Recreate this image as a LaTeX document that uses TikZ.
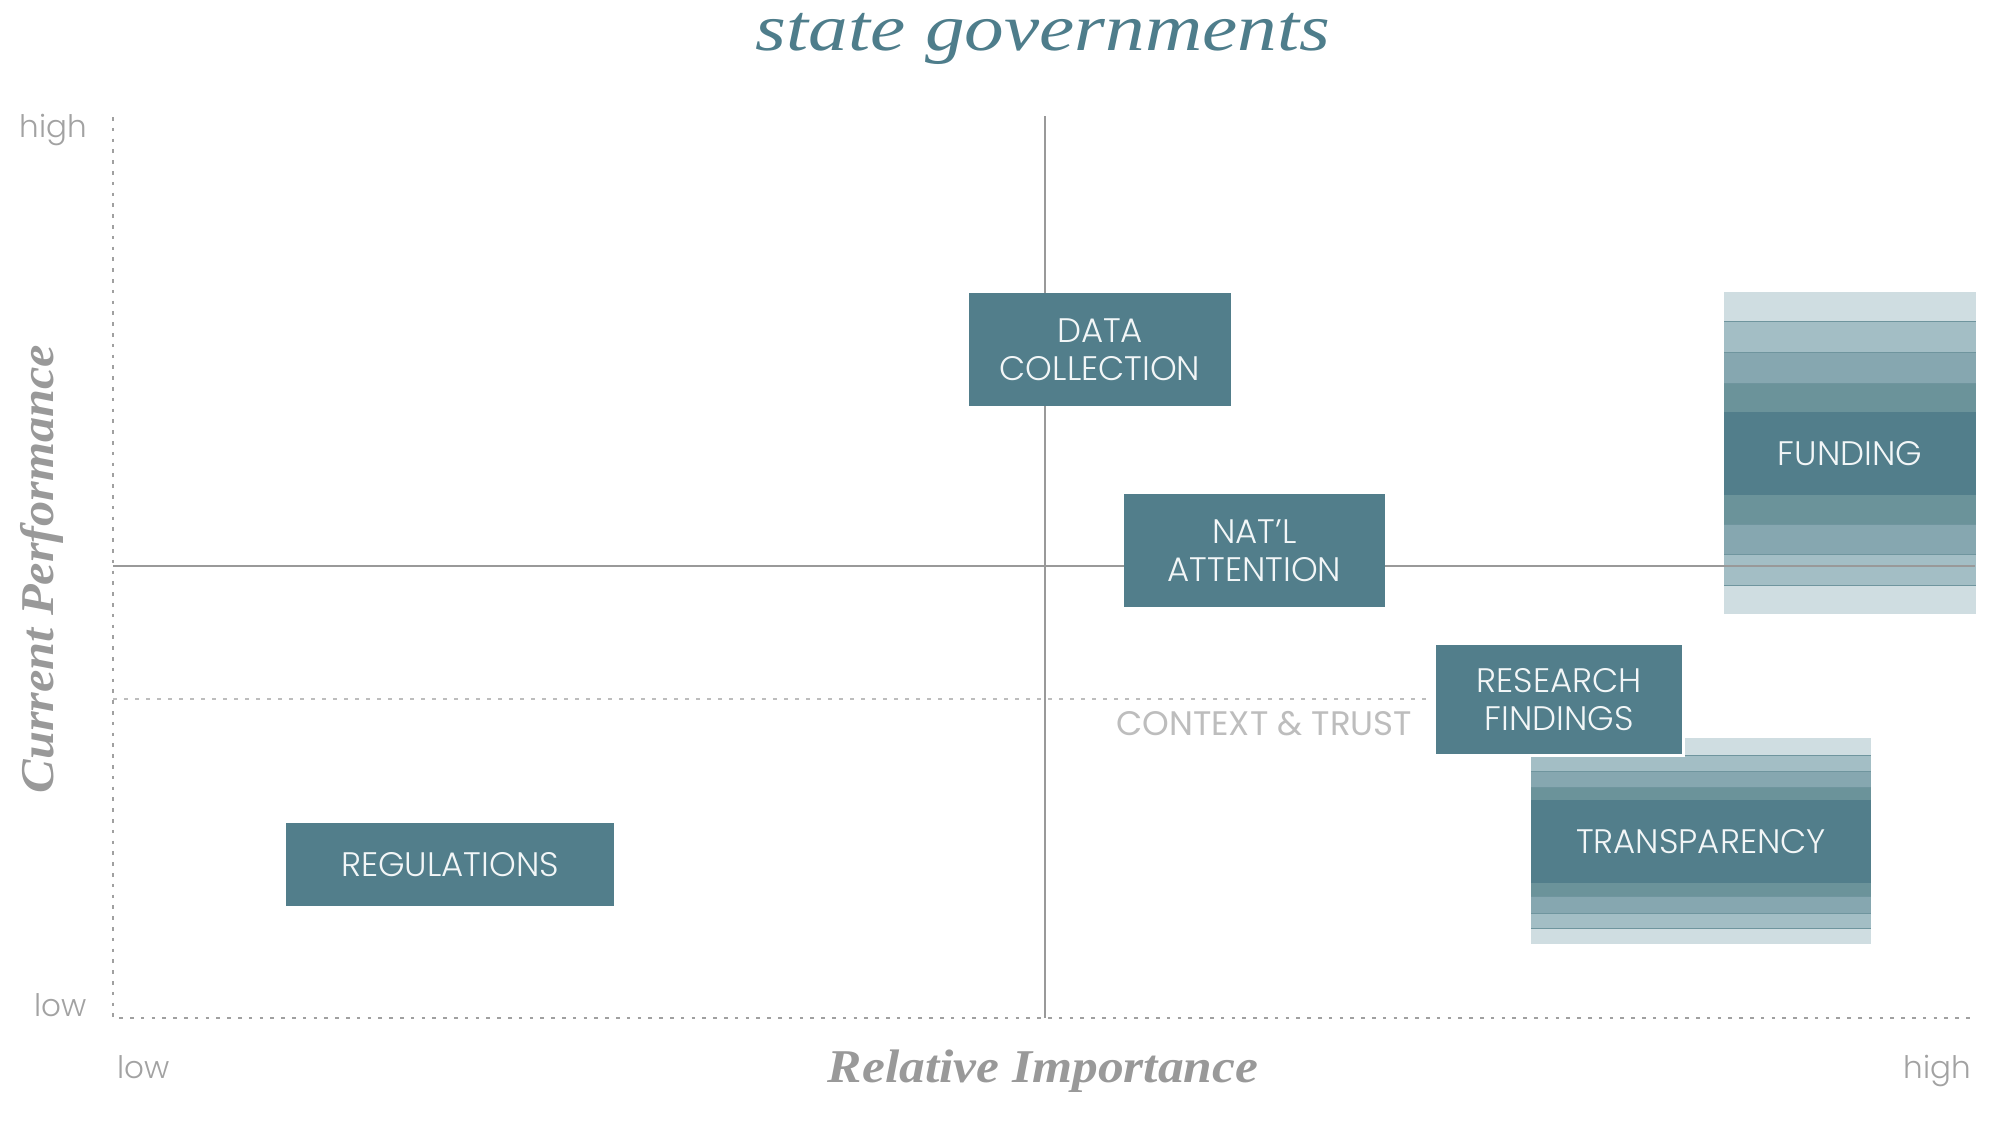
\documentclass[tikz,border=0pt]{standalone}
\usepackage{fontspec}
\setmainfont{Liberation Serif}
\newfontfamily\labf{Poppins Light}
\newfontfamily\ctxf{Poppins}
\definecolor{boxc}{HTML}{527E8B}
\definecolor{bandA}{HTML}{CFDDE1}
\definecolor{bandB}{HTML}{A3BEC5}
\definecolor{bandC}{HTML}{86A7B0}
\definecolor{bandD}{HTML}{6B939A}
\definecolor{sepc}{HTML}{6F959E}
\definecolor{axg}{HTML}{999999}
\definecolor{dotg}{HTML}{A0A0A0}
\definecolor{lowg}{HTML}{A2A2A2}
\definecolor{ctxg}{HTML}{BDBDBD}
\definecolor{titc}{HTML}{4E7D8B}
\definecolor{txtc}{HTML}{F2F6F7}
\tikzset{
  boxnode/.style={fill=boxc, text=txtc, inner sep=0pt, align=center,
    font=\labf\fontsize{34}{38}\selectfont},
  sepline/.style={draw=sepc, line width=1pt},
  axisdot/.style={draw=dotg, line width=2.7pt, dash pattern=on 3.5pt off 7.3pt},
  ctxdot/.style={draw=ctxg, line width=2.4pt, dash pattern=on 4pt off 7pt},
  solidax/.style={draw=axg, line width=2.2pt},
  lowhigh/.style={text=lowg, inner sep=0pt, font=\labf\fontsize{31}{36}\selectfont},
  axtitle/.style={text=axg, inner sep=0pt, font=\bfseries\itshape\fontsize{47}{52}\selectfont}
}
\begin{document}
\begin{tikzpicture}[x=1pt,y=-1pt]
\useasboundingbox (0,0) rectangle (2000,1120);
% funding stack
\fill[bandA] (1724,292) rectangle (1976,614);
\fill[bandB] (1724,321) rectangle (1976,585);
\fill[bandC] (1724,352) rectangle (1976,554);
\fill[bandD] (1724,383) rectangle (1976,524);
\foreach \yy in {321,352,383,524,554,585} \draw[sepline] (1724,\yy) -- (1976,\yy);
% transparency stack
\fill[bandA] (1531,738) rectangle (1871,944);
\fill[bandB] (1531,755) rectangle (1871,928);
\fill[bandC] (1531,771) rectangle (1871,913);
\fill[bandD] (1531,787) rectangle (1871,896);
\foreach \yy in {755,771,787,896,913,928} \draw[sepline] (1531,\yy) -- (1871,\yy);
% axes
\coordinate (tl) at (113,117);
\coordinate (bl) at (113,1018);
\coordinate (br) at (1971,1018);
\coordinate (vt) at (1045,116);
\coordinate (vb) at (1045,1018);
\coordinate (hl) at (113,566);
\coordinate (hr) at (1975,566);
\coordinate (cl) at (113,699);
\coordinate (cr) at (1436,699);
\draw[axisdot] (tl) -- (bl) -- (br);
\draw[solidax] (vt) -- (vb);
\draw[solidax] (hl) -- (hr);
\draw[ctxdot] (cl) -- (cr);
% boxes
\node[boxnode, minimum width=262pt, minimum height=113pt] (data) at (1100,349.5) {DATA\\COLLECTION};
\node[boxnode, minimum width=261pt, minimum height=113pt] (natl) at (1254.5,550.5) {NAT’L\\ATTENTION};
\node[boxnode, minimum width=252pt, minimum height=83pt] (funding) at (1850,453.5) {FUNDING};
\node[boxnode, minimum width=340pt, minimum height=83pt] (transp) at (1701,841.5) {TRANSPARENCY};
\node[boxnode, draw=white, line width=2.5pt, minimum width=249pt, minimum height=112pt] (research) at (1559,699.5) {RESEARCH\\FINDINGS};
\node[boxnode, minimum width=328pt, minimum height=83pt] (reg) at (450,864.5) {REGULATIONS};
\node[text=ctxg, inner sep=0pt, anchor=base west, font=\ctxf\fontsize{34}{38}\selectfont] (ctx) at (1116,735) {CONTEXT \& TRUST};
% axis labels
\node[lowhigh, anchor=base east] (yhigh) at (87,137) {high};
\node[lowhigh, anchor=base east] (ylow) at (87,1016) {low};
\node[lowhigh, anchor=base west] (xlow) at (117,1078) {low};
\node[lowhigh, anchor=base east] (xhigh) at (1971,1078) {high};
\node[axtitle, anchor=base, xscale=1.095] (xtitle) at (1043,1082) {Relative Importance};
\node[axtitle, anchor=base, rotate=90, xscale=1.07] (ytitle) at (53,569) {Current Performance};
\node[text=titc, inner sep=0pt, anchor=base, xscale=1.2, font=\itshape\fontsize{66}{72}\selectfont] (title) at (1043,50) {state governments};
\end{tikzpicture}
\end{document}
